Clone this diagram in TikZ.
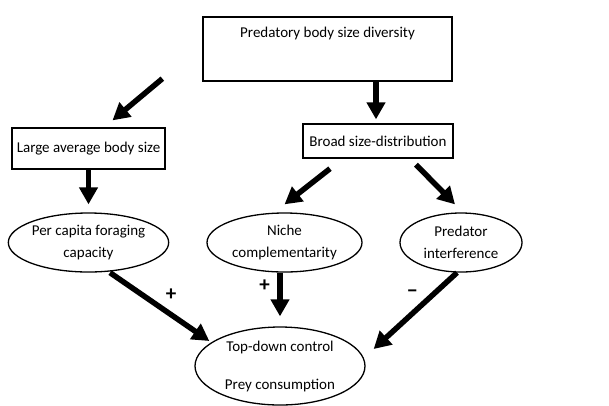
\documentclass[tikz,border=0pt]{standalone}
\usepackage{fontspec}
\setmainfont{Carlito}
\usetikzlibrary{arrows.meta,calc,shapes.geometric}
\tikzset{box/.style={draw, line width=1.3pt, rectangle, inner sep=0pt, font=\fontsize{15}{18}\selectfont}}
\tikzset{oval/.style={draw, line width=1.3pt, ellipse, inner sep=0pt, align=center, font=\fontsize{15}{22}\selectfont}}
\tikzset{link/.style={line width=5.5pt, -{Triangle[length=17pt, width=18pt]}}}
\tikzset{sign/.style={font=\bfseries\fontsize{21}{22}\selectfont}}

\begin{document}
\begin{tikzpicture}[x=1pt, y=-1pt]
        \useasboundingbox (0,0) rectangle (609,405);

        \node[box, minimum width=249pt, minimum height=64pt,
              label={[anchor=north, yshift=-7pt, font=\fontsize{15}{18}\selectfont]north:Predatory body size diversity}] (div) at (327.5, 49) {};
        \node[box, minimum width=153pt, minimum height=41pt] (large) at (88.5, 148.5) {Large average body size};
        \node[box, minimum width=150pt, minimum height=34pt] (broad) at (378, 141) {Broad size-distribution};

        \node[oval, minimum width=155pt, minimum height=59pt] (cap) at (88.5, 242.5) {Per capita foraging\\capacity};
        \node[oval, minimum width=155pt, minimum height=59pt] (niche) at (284.5, 242.5) {Niche\\complementarity};
        \node[oval, minimum width=122pt, minimum height=59pt] (interf) at (461, 242.5) {Predator\\interference};
        \node[oval, minimum width=170pt, minimum height=78pt] (ctrl) at (280, 366) {Top-down control\\[16pt]Prey consumption};

        \draw [link] ($(div.south west)+(-40,-3)$) -- ($(large.north)+(24,-7)$);
        \draw [link] ([xshift=-2pt]div.south -| broad.north) -- ([xshift=-2pt, yshift=4pt]broad.north);
        \draw [link] (large.south) -- ([yshift=8pt]cap.north);
        \draw [link] ($(broad.south)+(-48,10)$) -- ($(niche.north)+(0,-8)$);
        \draw [link] ($(broad.south)+(38,6)$) -- ($(interf.north)+(-6,-8)$);

        \draw [link] ($(cap.south)+(21.5,0)$) -- node[sign, pos=0.5, above right] {+} ($(ctrl.west)+(15,-25)$);
        \draw [link] (ctrl.north |- niche.south) -- node[sign, pos=0.3, left=4pt] {+} ([yshift=10pt]ctrl.north);
        \draw [link] ($(interf.south)+(-4,0)$) -- node[sign, pos=0.28, left=10pt] {\char"2212} ($(ctrl.east)+(8,-17)$);
    \end{tikzpicture}
\end{document}
